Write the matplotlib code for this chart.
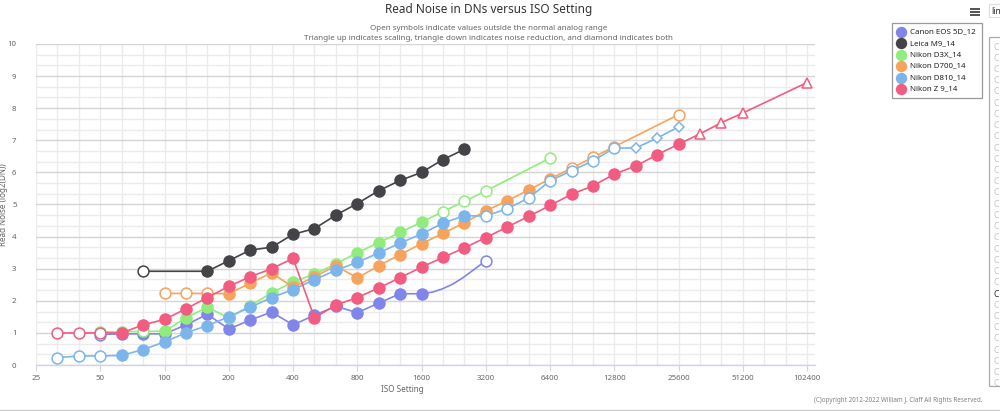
import numpy as np
import matplotlib
matplotlib.use('Agg')
from matplotlib import pyplot as plt
from matplotlib.patches import Rectangle

plt.rcParams['font.family'] = ['Noto Sans', 'DejaVu Sans']

iso_ticks = [25, 50, 100, 200, 400, 800, 1600, 3200, 6400, 12800, 25600, 51200, 102400]
y_ticks = [0, 1, 2, 3, 4, 5, 6, 7, 8, 9, 10]

canon_iso = [50, 64, 80, 100, 125, 160, 200, 250, 320, 400, 500, 640, 800, 1000, 1250, 1600, 3200]
canon_y = [0.95, 0.97, 0.97, 0.97, 1.25, 1.58, 1.12, 1.40, 1.65, 1.25, 1.55, 1.83, 1.63, 1.93, 2.22, 2.22, 3.25]
canon_open = [50, 3200]
# the one bent segment, 1600 to 3200
canon_curve_iso = [1600, 1800, 2000, 2240, 2500, 2800, 3200]
canon_curve_y = [2.22, 2.27, 2.37, 2.52, 2.72, 2.96, 3.25]

leica_iso = [80, 160, 200, 250, 320, 400, 500, 640, 800, 1000, 1250, 1600, 2000, 2500]
leica_y = [2.92, 2.92, 3.25, 3.58, 3.67, 4.07, 4.25, 4.67, 5.03, 5.43, 5.75, 6.00, 6.40, 6.72]
leica_open = [80]

d3x_iso = [50, 64, 80, 100, 125, 160, 200, 250, 320, 400, 500, 640, 800, 1000, 1250, 1600, 2000, 2500, 3200, 6400]
d3x_y = [1.03, 1.03, 1.05, 1.05, 1.47, 1.80, 1.47, 1.85, 2.25, 2.59, 2.83, 3.15, 3.50, 3.81, 4.13, 4.45, 4.78, 5.10, 5.42, 6.45]
d3x_open = [50, 80, 2000, 2500, 3200, 6400]

d700_iso = [100, 125, 160, 200, 250, 320, 400, 500, 640, 800, 1000, 1250, 1600, 2000, 2500, 3200, 4000, 5000, 6400,
            8000, 10000, 12800, 25600]
d700_y = [2.23, 2.23, 2.23, 2.22, 2.55, 2.87, 2.42, 2.75, 3.09, 2.71, 3.09, 3.44, 3.78, 4.10, 4.43, 4.80, 5.12, 5.45,
          5.80, 6.13, 6.47, 6.80, 7.80]
d700_open = [100, 125, 160, 8000, 10000, 12800, 25600]

d810_iso = [32, 40, 50, 64, 80, 100, 125, 160, 200, 250, 320, 400, 500, 640, 800, 1000, 1250, 1600, 2000, 2500, 3200,
            4000, 5000, 6400, 8000, 10000, 12800, 16000, 20000, 25600]
d810_y = [0.23, 0.28, 0.28, 0.30, 0.48, 0.72, 1.00, 1.23, 1.50, 1.80, 2.10, 2.35, 2.66, 2.95, 3.20, 3.49, 3.80, 4.08,
          4.42, 4.65, 4.64, 4.87, 5.20, 5.74, 6.05, 6.36, 6.76, 6.76, 7.07, 7.42]
d810_open = [32, 40, 50, 3200, 4000, 5000, 6400, 8000, 10000, 12800]
d810_diamond = [16000, 20000, 25600]

z9_iso = [32, 40, 50, 64, 80, 100, 125, 160, 200, 250, 320, 400, 500, 640, 800, 1000, 1250, 1600, 2000, 2500, 3200,
          4000, 5000, 6400, 8000, 10000, 12800, 16000, 20000, 25600, 32000, 40000, 51200, 102400]
z9_y = [1.00, 1.00, 1.00, 1.00, 1.25, 1.42, 1.75, 2.10, 2.45, 2.75, 3.00, 3.32, 1.47, 1.87, 2.10, 2.40, 2.72, 3.05,
        3.35, 3.65, 3.97, 4.30, 4.63, 4.97, 5.32, 5.58, 5.95, 6.20, 6.55, 6.88, 7.20, 7.55, 7.85, 8.80]
z9_open = [32, 40, 50]
z9_triangle = [32000, 40000, 51200, 102400]

names = ['Canon EOS 5D_12', 'Leica M9_14', 'Nikon D3X_14', 'Nikon D700_14', 'Nikon D810_14', 'Nikon Z 9_14']
colors = ['#8085e9', '#434348', '#90ed7d', '#f7a35c', '#7cb5ec', '#f15c80']

TEXT = '#666666'


def stop(iso):
    # thirds of a stop above ISO 25
    return 3 * np.log2(np.asarray(iso, dtype=float) / 25)


def draw_series(ax, iso, y, color, z, open_=(), diamond=(), triangle=(), line_iso=None, line_y=None):
    x = np.round(stop(iso))
    y = np.asarray(y)
    lx = x if line_iso is None else np.concatenate([x[:-2], stop(line_iso)])
    ly = y if line_y is None else np.concatenate([y[:-2], line_y])
    ax.plot(lx, ly, color=color, lw=1.2, zorder=z, solid_joinstyle='round', clip_on=False)
    special = list(open_) + list(diamond) + list(triangle)
    solid = [i for i, v in enumerate(iso) if v not in special]
    ax.plot(x[solid], y[solid], ls='none', marker='o', ms=9.0, mfc=color, mec=color, mew=0, zorder=z + 0.5,
            clip_on=False)
    for group, marker, size in ((open_, 'o', 7.8), (diamond, 'D', 5.0), (triangle, '^', 7.8)):
        idx = [i for i, v in enumerate(iso) if v in group]
        ax.plot(x[idx], y[idx], ls='none', marker=marker, ms=size, mfc='white', mec=color, mew=1.1, zorder=z + 0.5,
                clip_on=False)


fig = plt.figure(figsize=(10, 4.11), dpi=100)
ax = fig.add_axes([36 / 1000, 1 - 365 / 411, 779 / 1000, 321 / 411])
ax.set_xlim(0, 779 / 21.42)
ax.set_ylim(0, 10)

ax.set_xticks(stop(iso_ticks))
ax.set_xticklabels([str(t) for t in iso_ticks])
ax.set_xticks(np.arange(0, 37), minor=True)
ax.set_yticks(y_ticks)
ax.set_yticks(np.arange(0, 10.01, 1 / 3), minor=True)
ax.grid(True, which='minor', axis='both', color='#ebebeb', lw=1.0, zorder=0)
ax.grid(True, which='major', axis='x', color='#ebebeb', lw=1.0, zorder=0)
ax.grid(True, which='major', axis='y', color='#d4d4d4', lw=1.0, zorder=0.5)
ax.set_axisbelow(True)
for side in ['top', 'right', 'left']:
    ax.spines[side].set_visible(False)
ax.spines['bottom'].set_color('#ccd6eb')
ax.spines['bottom'].set_linewidth(1.0)
ax.tick_params(axis='x', which='major', length=4, width=0.8, color='#ccd6eb', labelcolor=TEXT, labelsize=5.7, pad=3.5)
ax.tick_params(axis='y', which='major', length=0, labelcolor=TEXT, labelsize=5.7, pad=14)
ax.tick_params(which='minor', length=0)

draw_series(ax, canon_iso, canon_y, colors[0], 3, open_=canon_open, line_iso=canon_curve_iso, line_y=canon_curve_y)
draw_series(ax, leica_iso, leica_y, colors[1], 4, open_=leica_open)
draw_series(ax, d3x_iso, d3x_y, colors[2], 5, open_=d3x_open)
draw_series(ax, d700_iso, d700_y, colors[3], 6, open_=d700_open)
draw_series(ax, d810_iso, d810_y, colors[4], 7, open_=d810_open, diamond=d810_diamond)
draw_series(ax, z9_iso, z9_y, colors[5], 8, open_=z9_open, triangle=z9_triangle)

# everything outside the plot is placed in page pixels
ov = fig.add_axes([0, 0, 1, 1], zorder=20)
ov.set_xlim(0, 1000)
ov.set_ylim(411, 0)
ov.axis('off')

ov.text(488.5, 10, 'Read Noise in DNs versus ISO Setting', ha='center', va='center', fontsize=8.5, color='#333333')
ov.text(488.5, 29, 'Open symbols indicate values outside the normal analog range', ha='center', va='center',
        fontsize=5.75, color=TEXT)
ov.text(488.5, 39, 'Triangle up indicates scaling, triangle down indicates noise reduction, and diamond indicates both',
        ha='center', va='center', fontsize=5.75, color=TEXT)
ov.text(402, 389, 'ISO Setting', ha='center', va='center', fontsize=5.8, color=TEXT)
ov.text(4, 205, 'Read Noise (log2(DN))', ha='center', va='center', rotation=90, fontsize=5.8, color=TEXT)
ov.text(982, 400, '(C)opyright 2012-2022 William J. Claff All Rights Reserved.', ha='right', va='center',
        fontsize=4.5, color='#808080')

# legend
ov.add_patch(Rectangle((891.5, 23.5), 90, 74.5, fc='white', ec='#999999', lw=0.9))
for row, (name, color) in enumerate(zip(names, colors)):
    ly = 32 + row * 11.4
    ov.plot([901], [ly], marker='o', ms=8.2, mfc=color, mec=color, mew=0, ls='none')
    ov.text(909.5, ly, name, ha='left', va='center', fontsize=5.7, color='#222222')

# export menu icon
for ly in (8.7, 11.7, 14.7):
    ov.plot([969.5, 980], [ly, ly], color='#444444', lw=1.3, solid_capstyle='butt')

# camera picker on the right edge, cut off by the page
ov.add_patch(Rectangle((988.5, 4.5), 20, 13, fc='white', ec='#dddddd', lw=0.8, clip_on=True))
ov.text(991, 11.5, 'lin', ha='left', va='center', fontsize=5.9, color='#222222')
panel = Rectangle((988.5, 37.5), 20, 348, fc='white', ec='#aaaaaa', lw=0.9)
ov.add_patch(panel)
for row in range(31):
    t = ov.text(994, 47 + row * 11.23, 'C', ha='left', va='center', fontsize=6.2,
                color='#333333' if row == 22 else '#c4c4c4')
    t.set_clip_path(panel)

ov.plot([0, 1000], [410.3, 410.3], color='#cccccc', lw=1.0)

fig.savefig('out.png', dpi=100, facecolor='white')
